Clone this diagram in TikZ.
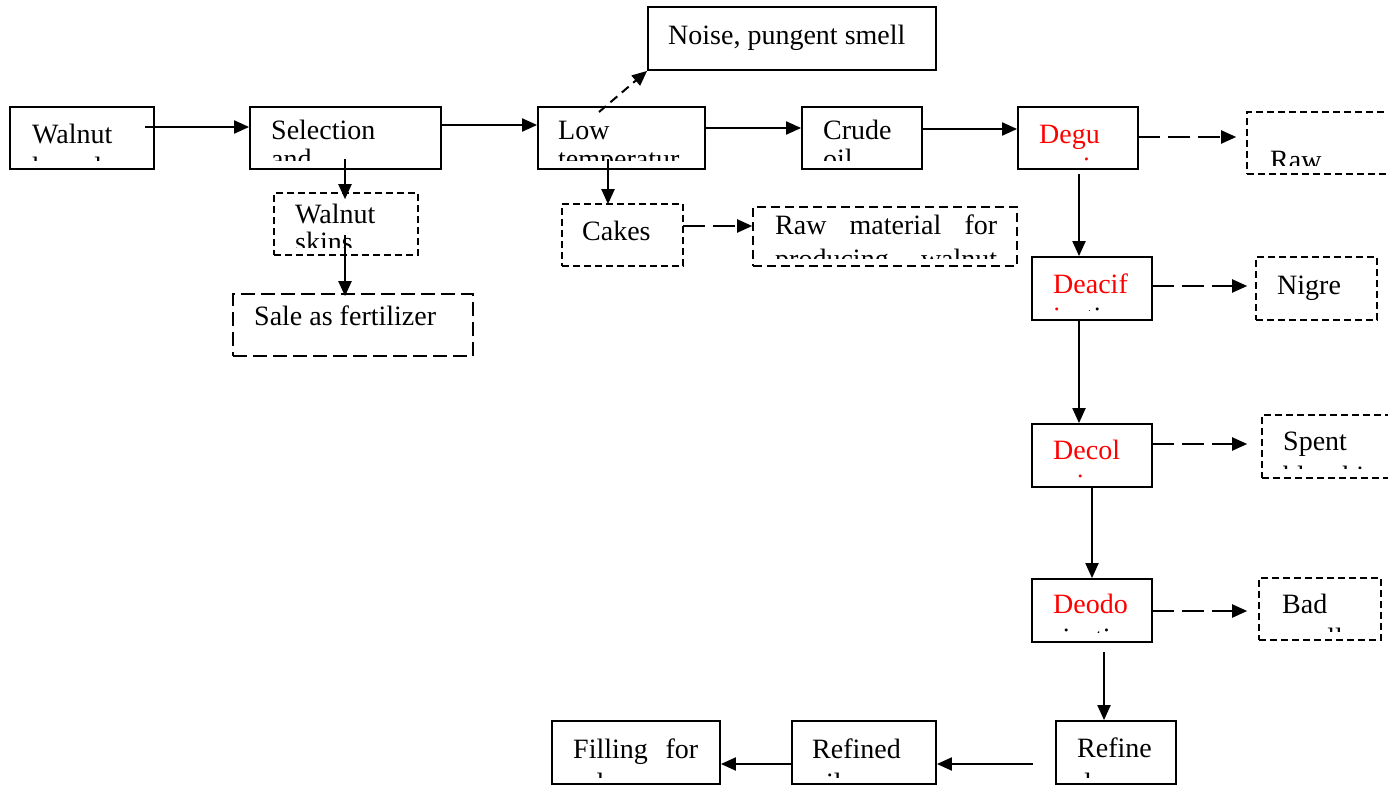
\documentclass[tikz,border=0pt]{standalone}
\usepackage{fontspec}
\setmainfont{Liberation Serif}
\usetikzlibrary{arrows.meta,fit}

% text inside a box, cut off a little above its lower edge
\newcommand\clipin[3]{%
  \begin{scope}
    \clip ([yshift=#2]#1.south west) rectangle (#1.north east);
    #3
  \end{scope}}

\tikzset{
  box/.style={draw, line width=1.8pt, inner sep=0pt},
  dbox/.style={draw, line width=1.6pt, inner sep=0pt, dash pattern=on 7pt off 4pt},
  mdbox/.style={draw, line width=1.6pt, inner sep=0pt, dash pattern=on 9pt off 5pt},
  ldbox/.style={draw, line width=1.6pt, inner sep=0pt, dash pattern=on 14pt off 6pt},
  lbl/.style={anchor=base west, inner sep=0pt, font=\fontsize{28}{32}\selectfont},
  rlbl/.style={lbl, text=red},
  arr/.style={line width=2pt, -{Triangle[length=15pt,width=13pt]}},
  darr/.style={arr, dash pattern=on 22pt off 8pt},
  sdarr/.style={arr, dash pattern=on 9pt off 6pt},
}

\begin{document}
\begin{tikzpicture}[x=1pt,y=-1pt]
\fill[white] (0,0) rectangle (1388,787);
\useasboundingbox (0,0) rectangle (1388,787);

% ---------- boxes ----------
\node[box,    fit={(10,107)(154,169)}]   (walnut) {};
\node[box,    fit={(250,107)(441,169)}]  (sel) {};
\node[box,    fit={(538,107)(705,169)}]  (low) {};
\node[box,    fit={(648,7)(936,70)}]     (noise) {};
\node[box,    fit={(802,107)(922,169)}]  (crude) {};
\node[box,    fit={(1018,107)(1138,169)}] (degu) {};
\node[dbox,   fit={(1247,112)(1400,174)}] (rawr) {};
\node[box,    fit={(1032,257)(1152,320)}] (deacid) {};
\node[dbox,   fit={(1256,257)(1377,320)}] (nigre) {};
\node[box,    fit={(1032,424)(1152,487)}] (decol) {};
\node[dbox,   fit={(1262,415)(1400,478)}] (spent) {};
\node[box,    fit={(1032,579)(1152,642)}] (deodo) {};
\node[dbox,   fit={(1259,578)(1381,640)}] (bad) {};
\node[box,    fit={(552,721)(720,784)}]   (filling) {};
\node[box,    fit={(792,721)(936,784)}]   (refined) {};
\node[box,    fit={(1056,721)(1176,784)}] (refine) {};
\node[dbox,   fit={(274,193)(418,255)}]   (skins) {};
\node[ldbox,  fit={(233,294)(473,356)}]   (sale) {};
\node[dbox,   fit={(562,204)(683,266)}]   (cakes) {};
\node[mdbox,  fit={(753,207)(1017,266)}]  (rawmat) {};

% ---------- texts ----------
\clipin{walnut}{9pt}{
  \node[lbl] (t1a) at (32,143) {Walnut};
  \node[lbl] (t1b) at (32,176) {kernels};}
\clipin{sel}{9pt}{
  \node[lbl] (t2a) at (271,139) {Selection};
  \node[lbl] (t2b) at (271,168) {and};}
\clipin{low}{9pt}{
  \node[lbl] (t3a) at (558,139) {Low};
  \node[lbl] (t3b) at (558,168) {temperatur};}
\node[lbl] (t4) at (668,44) {Noise, pungent smell};
\clipin{crude}{9pt}{
  \node[lbl] (t5a) at (823,139) {Crude};
  \node[lbl] (t5b) at (823,168) {oil};}
\clipin{degu}{9pt}{
  \node[rlbl] (t6a) at (1039,143) {Degu};
  \node[rlbl] (t6b) at (1039,176) {mming};}
\clipin{rawr}{9pt}{
  \node[lbl] (t7) at (1270,169) {Raw};}
\clipin{deacid}{10pt}{
  \node[rlbl] (t8a) at (1053,293) {Deacif};
  \node[lbl] (t8b) at (1053,326) {\textcolor{red}{i}cation};}
\node[lbl] (t9) at (1277,294) {Nigre};
\clipin{decol}{10pt}{
  \node[rlbl] (t10a) at (1053,459) {Decol};
  \node[rlbl] (t10b) at (1053,493) {oriza};}
\clipin{spent}{10pt}{
  \node[lbl] (t11a) at (1283,450) {Spent};
  \node[lbl] (t11b) at (1283,485) {bleaching clay};}
\clipin{deodo}{10pt}{
  \node[rlbl] (t12a) at (1053,613) {Deodo};
  \node[lbl] (t12b) at (1053,647) {rization};}
\clipin{bad}{9pt}{
  \node[lbl] (t13a) at (1282,613) {Bad};
  \node[lbl] (t13b) at (1282,647) {smell};}
\clipin{filling}{7pt}{
  \node[lbl] (t14a) at (573,758) {\makebox[125pt][s]{Filling for}};
  \node[lbl] (t14b) at (573,792) {sale};}
\clipin{refined}{7pt}{
  \node[lbl] (t15a) at (812,758) {Refined};
  \node[lbl] (t15b) at (812,792) {oil};}
\clipin{refine}{7pt}{
  \node[lbl] (t16a) at (1077,757) {Refine};
  \node[lbl] (t16b) at (1077,792) {d};}
\clipin{skins}{8pt}{
  \node[lbl] (t17a) at (295,223) {Walnut};
  \node[lbl] (t17b) at (295,251) {skins};}
\node[lbl] (t18) at (254,325) {Sale as fertilizer};
\node[lbl] (t19) at (582,240) {Cakes};
\clipin{rawmat}{8pt}{
  \node[lbl] (t20a) at (775,234) {\makebox[222pt][s]{Raw material for}};
  \node[lbl] (t20b) at (775,268) {\makebox[222pt][s]{producing walnut}};}

% ---------- connector start points ----------
\coordinate (s1)  at (145,127);
\coordinate (s2)  at (441,125);
\coordinate (s3)  at (705,128);
\coordinate (s4)  at (922,129);
\coordinate (s5)  at (1138,137);
\coordinate (s6)  at (599,112);
\coordinate (s7)  at (345,159);
\coordinate (s8)  at (345,235);
\coordinate (s9)  at (608,159);
\coordinate (s10) at (683,226);
\coordinate (s11) at (1079,174);
\coordinate (s12) at (1152,286);
\coordinate (s13) at (1079,320);
\coordinate (s14) at (1152,444);
\coordinate (s15) at (1092,487);
\coordinate (s16) at (1152,611);
\coordinate (s17) at (1104,652);
\coordinate (s18) at (1033,764);
\coordinate (s19) at (792,764);

% ---------- main line ----------
\draw[arr] (s1) -- (s1 -| sel.west);
\draw[arr] (s2) -- (s2 -| low.west);
\draw[arr] (s3) -- (s3 -| crude.west);
\draw[arr] (s4) -- (s4 -| degu.west);

% ---------- side products ----------
\draw[darr]  (s5) -- ([xshift=-10pt]s5 -| rawr.west);
\draw[sdarr] (s6) -- (noise.south west);
\draw[arr]   (s7) -- ([yshift=-7pt]s7 |- skins.north);
\draw[arr]   (s8) -- ([yshift=-3pt]s8 |- sale.north);
\draw[arr]   (s9) -- ([yshift=-1pt]s9 |- cakes.north);
\draw[darr]  (s10) -- (s10 -| rawmat.west);

% ---------- refining column ----------
\draw[arr]  (s11) -- (s11 |- deacid.north);
\draw[darr] (s12) -- ([xshift=-8pt]s12 -| nigre.west);
\draw[arr]  (s13) -- (s13 |- decol.north);
\draw[darr] (s14) -- ([xshift=-14pt]s14 -| spent.west);
\draw[arr]  (s15) -- (s15 |- deodo.north);
\draw[darr] (s16) -- ([xshift=-11pt]s16 -| bad.west);
\draw[arr]  (s17) -- (s17 |- refine.north);

% ---------- bottom row ----------
\draw[arr] (s18) -- (s18 -| refined.east);
\draw[arr] (s19) -- (s19 -| filling.east);
\end{tikzpicture}
\end{document}
